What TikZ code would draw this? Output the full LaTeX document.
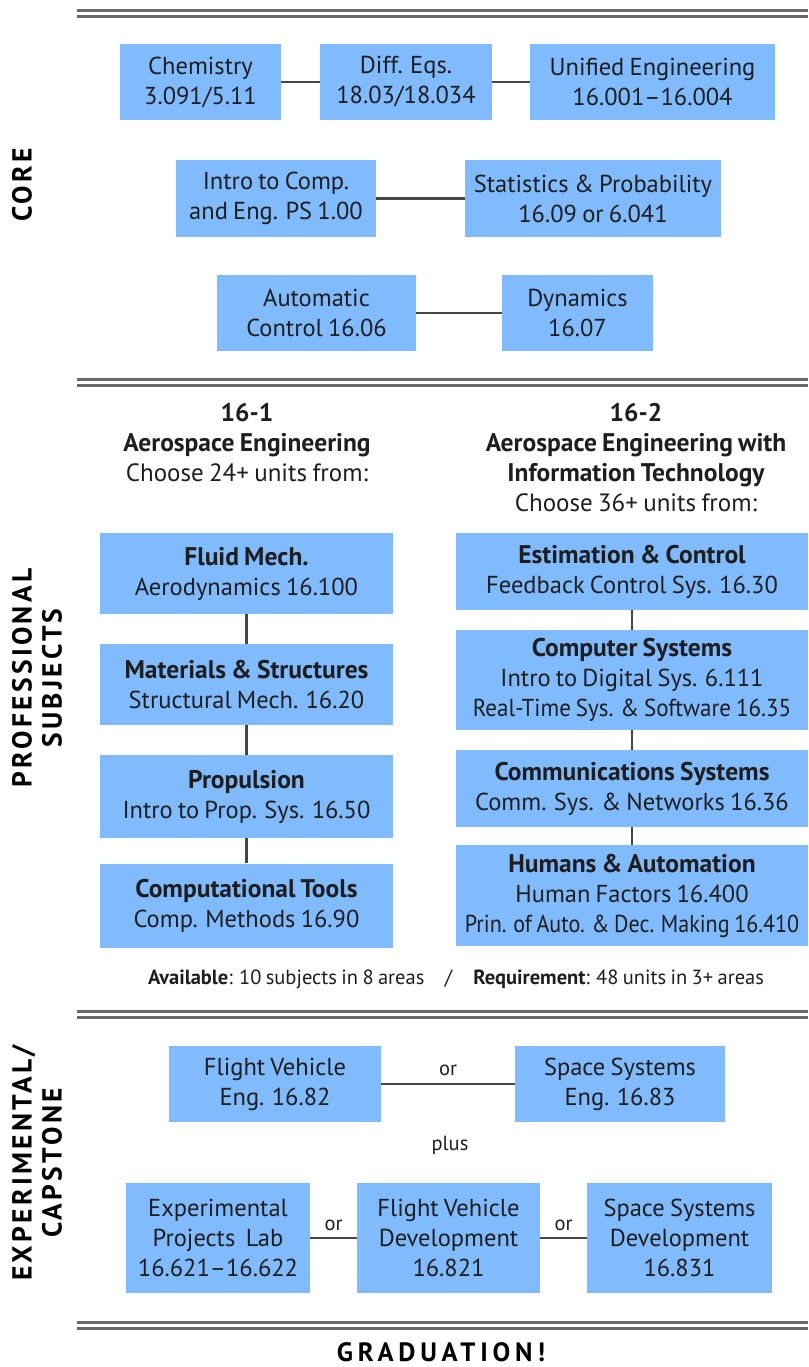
\documentclass[tikz,border=0pt]{standalone}
\usepackage{graphicx}
\usepackage{fontspec}
\setmainfont[WordSpace=0.8]{PT Sans}
\definecolor{boxblue}{RGB}{128,186,255}
\definecolor{linegray}{RGB}{70,70,70}
\definecolor{sepgray}{RGB}{105,105,105}
\definecolor{txt}{RGB}{30,30,30}
\newcommand{\hd}[1]{{\fontsize{25.5}{30}\selectfont\bfseries #1}}
\newcommand{\sq}[2]{\scalebox{#1}[1]{#2}}
\begin{document}
\begin{tikzpicture}[x=1pt,y=-1pt,
  box/.style={fill=boxblue, draw=none, align=center, inner sep=0pt, text=txt,
    font=\fontsize{24.5}{30}\selectfont},
  conn/.style={draw=linegray, line width=2.2pt},
  sep/.style={draw=sepgray, line width=2.6pt},
  lbl/.style={align=center, inner sep=0pt, text=txt, font=\fontsize{25}{30}\selectfont},
  small/.style={align=center, inner sep=0pt, text=txt, font=\fontsize{20.5}{24}\selectfont},
  side/.style={rotate=90, align=center, inner sep=0pt, text=black,
    font=\fontsize{27.5}{30}\selectfont\bfseries\addfontfeature{LetterSpace=12}}
]
\useasboundingbox (0,0) rectangle (808,1367);

% separators
\foreach \yy in {10.5,379.5,1011.5,1322.5}{
  \draw[sep] (77,\yy) -- (808,\yy);
  \draw[sep] (77,\yy+6) -- (808,\yy+6);
}

% side labels
\node[side] (lcore) at (22,185) {CORE};
\node[side] (lprof) at (37,678) {PROFESSIONAL\\SUBJECTS};
\node[side] (lcap) at (37,1163) {EXPERIMENTAL/\\CAPSTONE};

% core
\node[box, minimum width=161pt, minimum height=76pt] (chem) at (200.5,82) {Chemistry\\3.091/5.11};
\node[box, minimum width=172pt, minimum height=76pt] (diff) at (406,82) {Diff. Eqs.\\18.03/18.034};
\node[box, minimum width=245pt, minimum height=76pt] (unif) at (652.5,82) {Unified Engineering\\16.001–16.004};
\node[box, minimum width=200pt, minimum height=77pt] (intro) at (276,198.5) {Intro to Comp.\\and Eng. PS 1.00};
\node[box, minimum width=256pt, minimum height=77pt] (stats) at (593,198.5) {Statistics \& Probability\\16.09 or 6.041};
\node[box, minimum width=199pt, minimum height=76pt] (auto) at (316.5,313) {Automatic\\Control 16.06};
\node[box, minimum width=151pt, minimum height=76pt] (dyn) at (577.5,313) {Dynamics\\16.07};
\draw[conn] (chem) -- (diff);
\draw[conn] (diff) -- (unif);
\draw[conn] (intro) -- (stats);
\draw[conn] (auto) -- (dyn);

% professional headings
\node[lbl] (h1) at (247,443) {\hd{16-1}\\\hd{Aerospace Engineering}\\Choose 24+ units from:};
\node[lbl] (h2) at (636,458) {\hd{16-2}\\\hd{Aerospace Engineering with}\\\hd{Information Technology}\\Choose 36+ units from:};

% left column
\node[box, minimum width=293pt, minimum height=81pt] (fluid) at (246.5,573.5) {\hd{Fluid Mech.}\\Aerodynamics 16.100};
\node[box, minimum width=293pt, minimum height=81pt] (mat) at (246.5,684.5) {\hd{Materials \& Structures}\\Structural Mech. 16.20};
\node[box, minimum width=293pt, minimum height=83pt] (prop) at (246.5,796.5) {\hd{Propulsion}\\Intro to Prop. Sys. 16.50};
\node[box, minimum width=293pt, minimum height=84pt] (comp) at (246.5,905.5) {\hd{Computational Tools}\\Comp. Methods 16.90};
\draw[conn] (fluid) -- (mat);
\draw[conn] (mat) -- (prop);
\draw[conn] (prop) -- (comp);

% right column
\node[box, minimum width=352pt, minimum height=77pt] (est) at (632,571.5) {\hd{Estimation \& Control}\\Feedback Control Sys. 16.30};
\node[box, minimum width=352pt, minimum height=100pt] (csys) at (632,680) {\hd{Computer Systems}\\Intro to Digital Sys. 6.111\\\sq{0.94}{Real-Time Sys. \& Software 16.35}};
\node[box, minimum width=352pt, minimum height=77pt] (comm) at (632,788.5) {\hd{Communications Systems}\\Comm. Sys. \& Networks 16.36};
\node[box, minimum width=352pt, minimum height=101pt] (hum) at (632,895.5) {\hd{Humans \& Automation}\\Human Factors 16.400\\\sq{0.9}{Prin. of Auto. \& Dec. Making 16.410}};
\draw[conn] (est) -- (csys);
\draw[conn] (csys) -- (comm);
\draw[conn] (comm) -- (hum);

\node[small] (avail) at (456,979) {\textbf{Available}: 10 subjects in 8 areas\quad/\quad\textbf{Requirement}: 48 units in 3+ areas};

% capstone
\node[box, minimum width=212pt, minimum height=76pt] (fve) at (275,1084) {Flight Vehicle\\Eng. 16.82};
\node[box, minimum width=210pt, minimum height=76pt] (sse) at (620,1084) {Space Systems\\Eng. 16.83};
\draw[conn] (fve) -- node[small, above=7pt] {or} (sse);
\node[small] (plus) at (450,1145) {plus};
\node[box, minimum width=184pt, minimum height=110pt] (epl) at (218,1238) {Experimental\\Projects\ \ Lab\\16.621–16.622};
\node[box, minimum width=183pt, minimum height=110pt] (fvd) at (448.5,1238) {Flight Vehicle\\Development\\16.821};
\node[box, minimum width=185pt, minimum height=110pt] (ssd) at (679.5,1238) {Space Systems\\Development\\16.831};
\draw[conn] (epl) -- node[small, above=6pt] {or} (fvd);
\draw[conn] (fvd) -- node[small, above=6pt] {or} (ssd);

\node[inner sep=0pt, text=black, font=\fontsize{26.5}{30}\selectfont\bfseries\addfontfeature{LetterSpace=18}] (grad) at (441,1352) {GRADUATION!};
\end{tikzpicture}
\end{document}
